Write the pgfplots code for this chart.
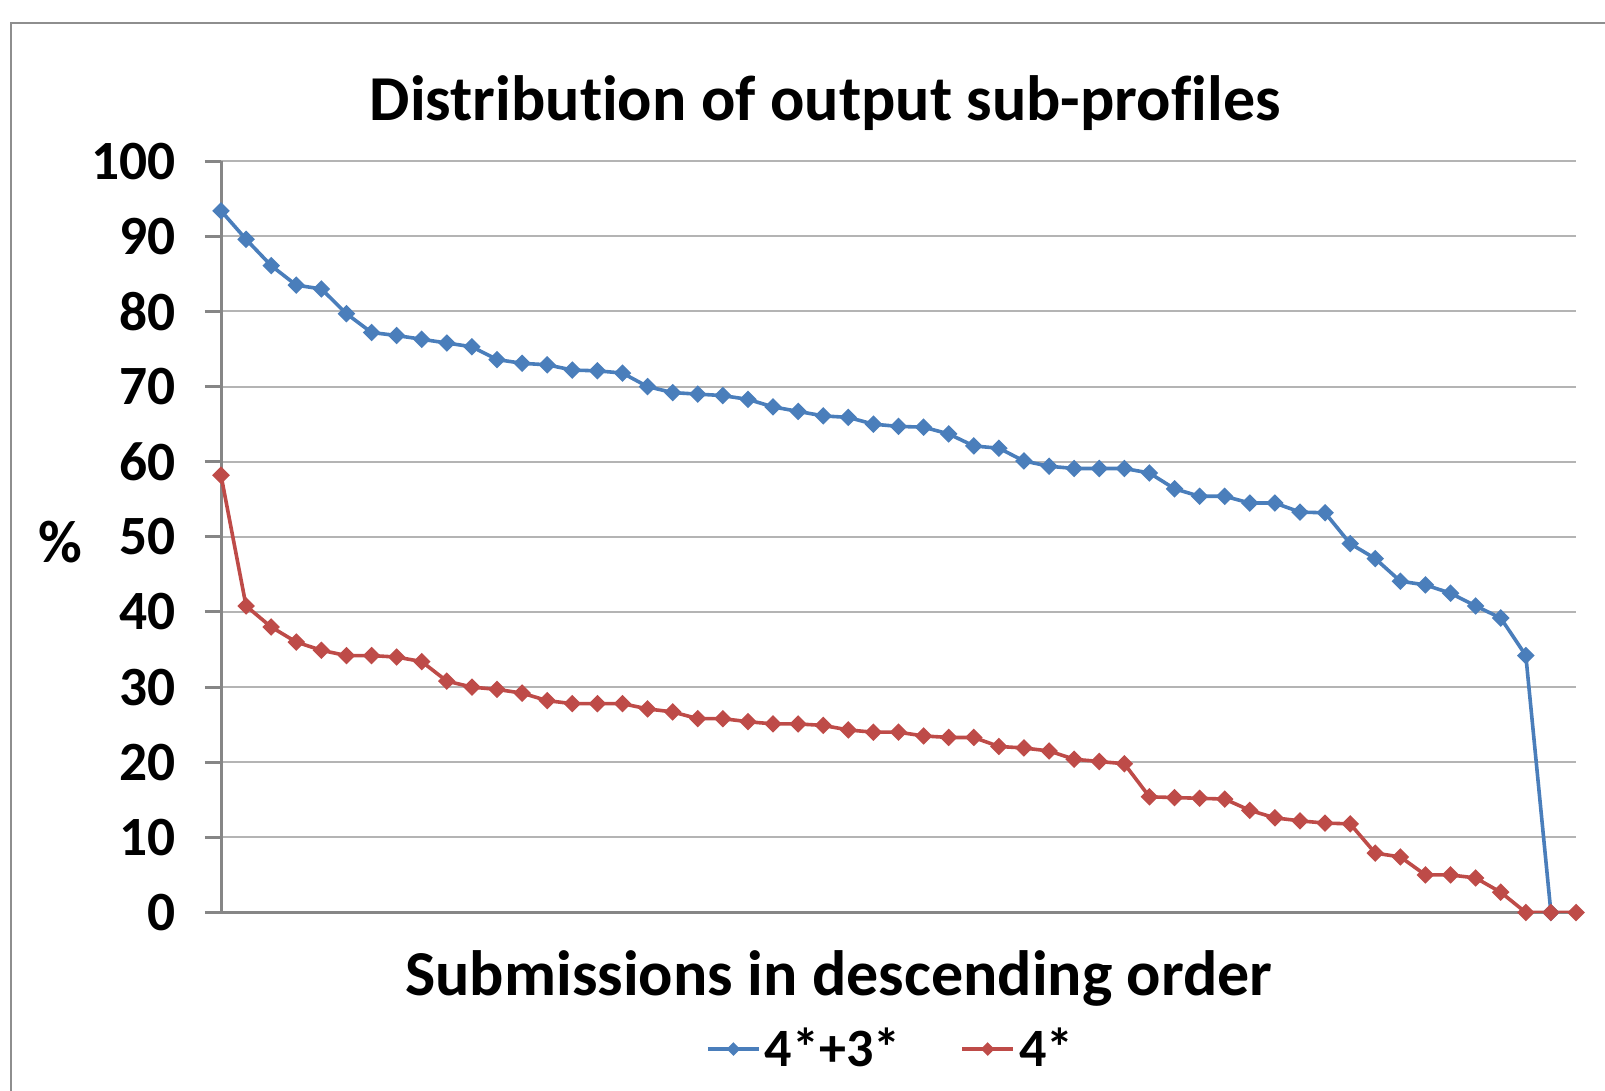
\documentclass[border=0pt]{standalone}
\usepackage{pgfplots}
\pgfplotsset{compat=1.18}
\usepackage{fontspec}
\setmainfont{Carlito}[Ligatures=NoCommon]
\definecolor{sblue}{HTML}{4A7EBB}
\definecolor{sred}{HTML}{BE4B48}
\definecolor{gridgray}{HTML}{B4B4B4}
\definecolor{axisgray}{HTML}{868686}
\definecolor{framegray}{HTML}{8E8E8E}
\begin{document}
\begin{tikzpicture}
\begin{scope}[x=0.5pt,y=-0.5pt]
\useasboundingbox (0,0) rectangle (1605,1091);
\begin{scope}
\clip (0,0) rectangle (1605,1091);
\draw[framegray, line width=1pt] (10.5,23.5) rectangle (1800,1300);
\end{scope}
\end{scope}
\begin{axis}[
  at={(110.5pt,-456.25pt)}, anchor=south west,
  scale only axis, width=677.5pt, height=375.65pt,
  xmin=0, xmax=54, ymin=0, ymax=100,
  axis x line*=bottom, axis y line*=left,
  axis line style={draw=axisgray, line width=1.5pt, -},
  every outer x axis line/.append style={-},
  every outer y axis line/.append style={-},
  tick align=outside,
  ytick={0,10,...,100},
  xtick=\empty,
  minor xtick={0,1,...,54},
  major tick length=8pt, minor tick length=4.5pt,
  tick style={draw=axisgray, line width=1.5pt},
  minor tick style={draw=axisgray, line width=1.3pt},
  ymajorgrids, major grid style={draw=gridgray, line width=1pt},
  /pgf/number format/assume math mode=true,
  yticklabel style={font=\fontsize{27.7}{32}\selectfont\bfseries, xshift=-11pt},
  title={Distribution of output sub-profiles},
  xlabel={Submissions in descending order},
  ylabel={\%},
  every axis title/.style={at={(rel axis cs:0.4458,1.0538)}, anchor=base, font=\fontsize{32}{38}\selectfont\bfseries},
  every axis x label/.style={at={(rel axis cs:0.456,-0.1098)}, anchor=base, font=\fontsize{32}{38}\selectfont\bfseries},
  every axis y label/.style={at={(rel axis cs:-0.1185,0.4925)}, anchor=center, font=\fontsize{30}{36}\selectfont\bfseries},
  legend columns=2,
  legend style={at={(rel axis cs:0.495,-0.1817)}, anchor=center, draw=none, fill=none,
    font=\fontsize{27}{32}\selectfont\bfseries,
    /tikz/every even column/.append style={column sep=28pt}},
  legend image code/.code={\draw[#1, mark size=1.5pt, mark repeat=2, mark phase=2] plot coordinates {(0cm,0cm) (0.45cm,0cm) (0.9cm,0cm)};},
]
\addplot[sblue, line width=1.8pt, mark=square*, mark size=2.2pt, mark options={rotate=45, solid}] coordinates {
(0,93.4) (1,89.6) (2,86.1) (3,83.5) (4,83.0) (5,79.7) (6,77.2) (7,76.8) (8,76.3) (9,75.8)
(10,75.3) (11,73.6) (12,73.1) (13,72.9) (14,72.2) (15,72.1) (16,71.8) (17,70.0) (18,69.2) (19,69.0)
(20,68.8) (21,68.3) (22,67.3) (23,66.7) (24,66.1) (25,65.9) (26,65.0) (27,64.7) (28,64.6) (29,63.7)
(30,62.1) (31,61.8) (32,60.1) (33,59.4) (34,59.1) (35,59.1) (36,59.1) (37,58.5) (38,56.4) (39,55.4)
(40,55.4) (41,54.5) (42,54.5) (43,53.3) (44,53.2) (45,49.1) (46,47.1) (47,44.1) (48,43.6) (49,42.5)
(50,40.8) (51,39.2) (52,34.2) (53,0)
};
\addlegendentry{4*+3*}
\addplot[sred, line width=1.8pt, mark=square*, mark size=2.2pt, mark options={rotate=45, solid}] coordinates {
(0,58.2) (1,40.8) (2,38.0) (3,36.0) (4,34.9) (5,34.2) (6,34.2) (7,34.0) (8,33.4) (9,30.8)
(10,30.0) (11,29.7) (12,29.2) (13,28.2) (14,27.8) (15,27.8) (16,27.8) (17,27.1) (18,26.7) (19,25.8)
(20,25.8) (21,25.4) (22,25.1) (23,25.1) (24,24.9) (25,24.3) (26,24.0) (27,24.0) (28,23.5) (29,23.3)
(30,23.3) (31,22.1) (32,21.9) (33,21.5) (34,20.4) (35,20.1) (36,19.8) (37,15.4) (38,15.3) (39,15.2)
(40,15.1) (41,13.6) (42,12.6) (43,12.2) (44,11.9) (45,11.8) (46,7.9) (47,7.4) (48,5.0) (49,5.0)
(50,4.6) (51,2.7) (52,0) (53,0) (54,0)
};
\addlegendentry{4*}
\end{axis}
\end{tikzpicture}
\end{document}
